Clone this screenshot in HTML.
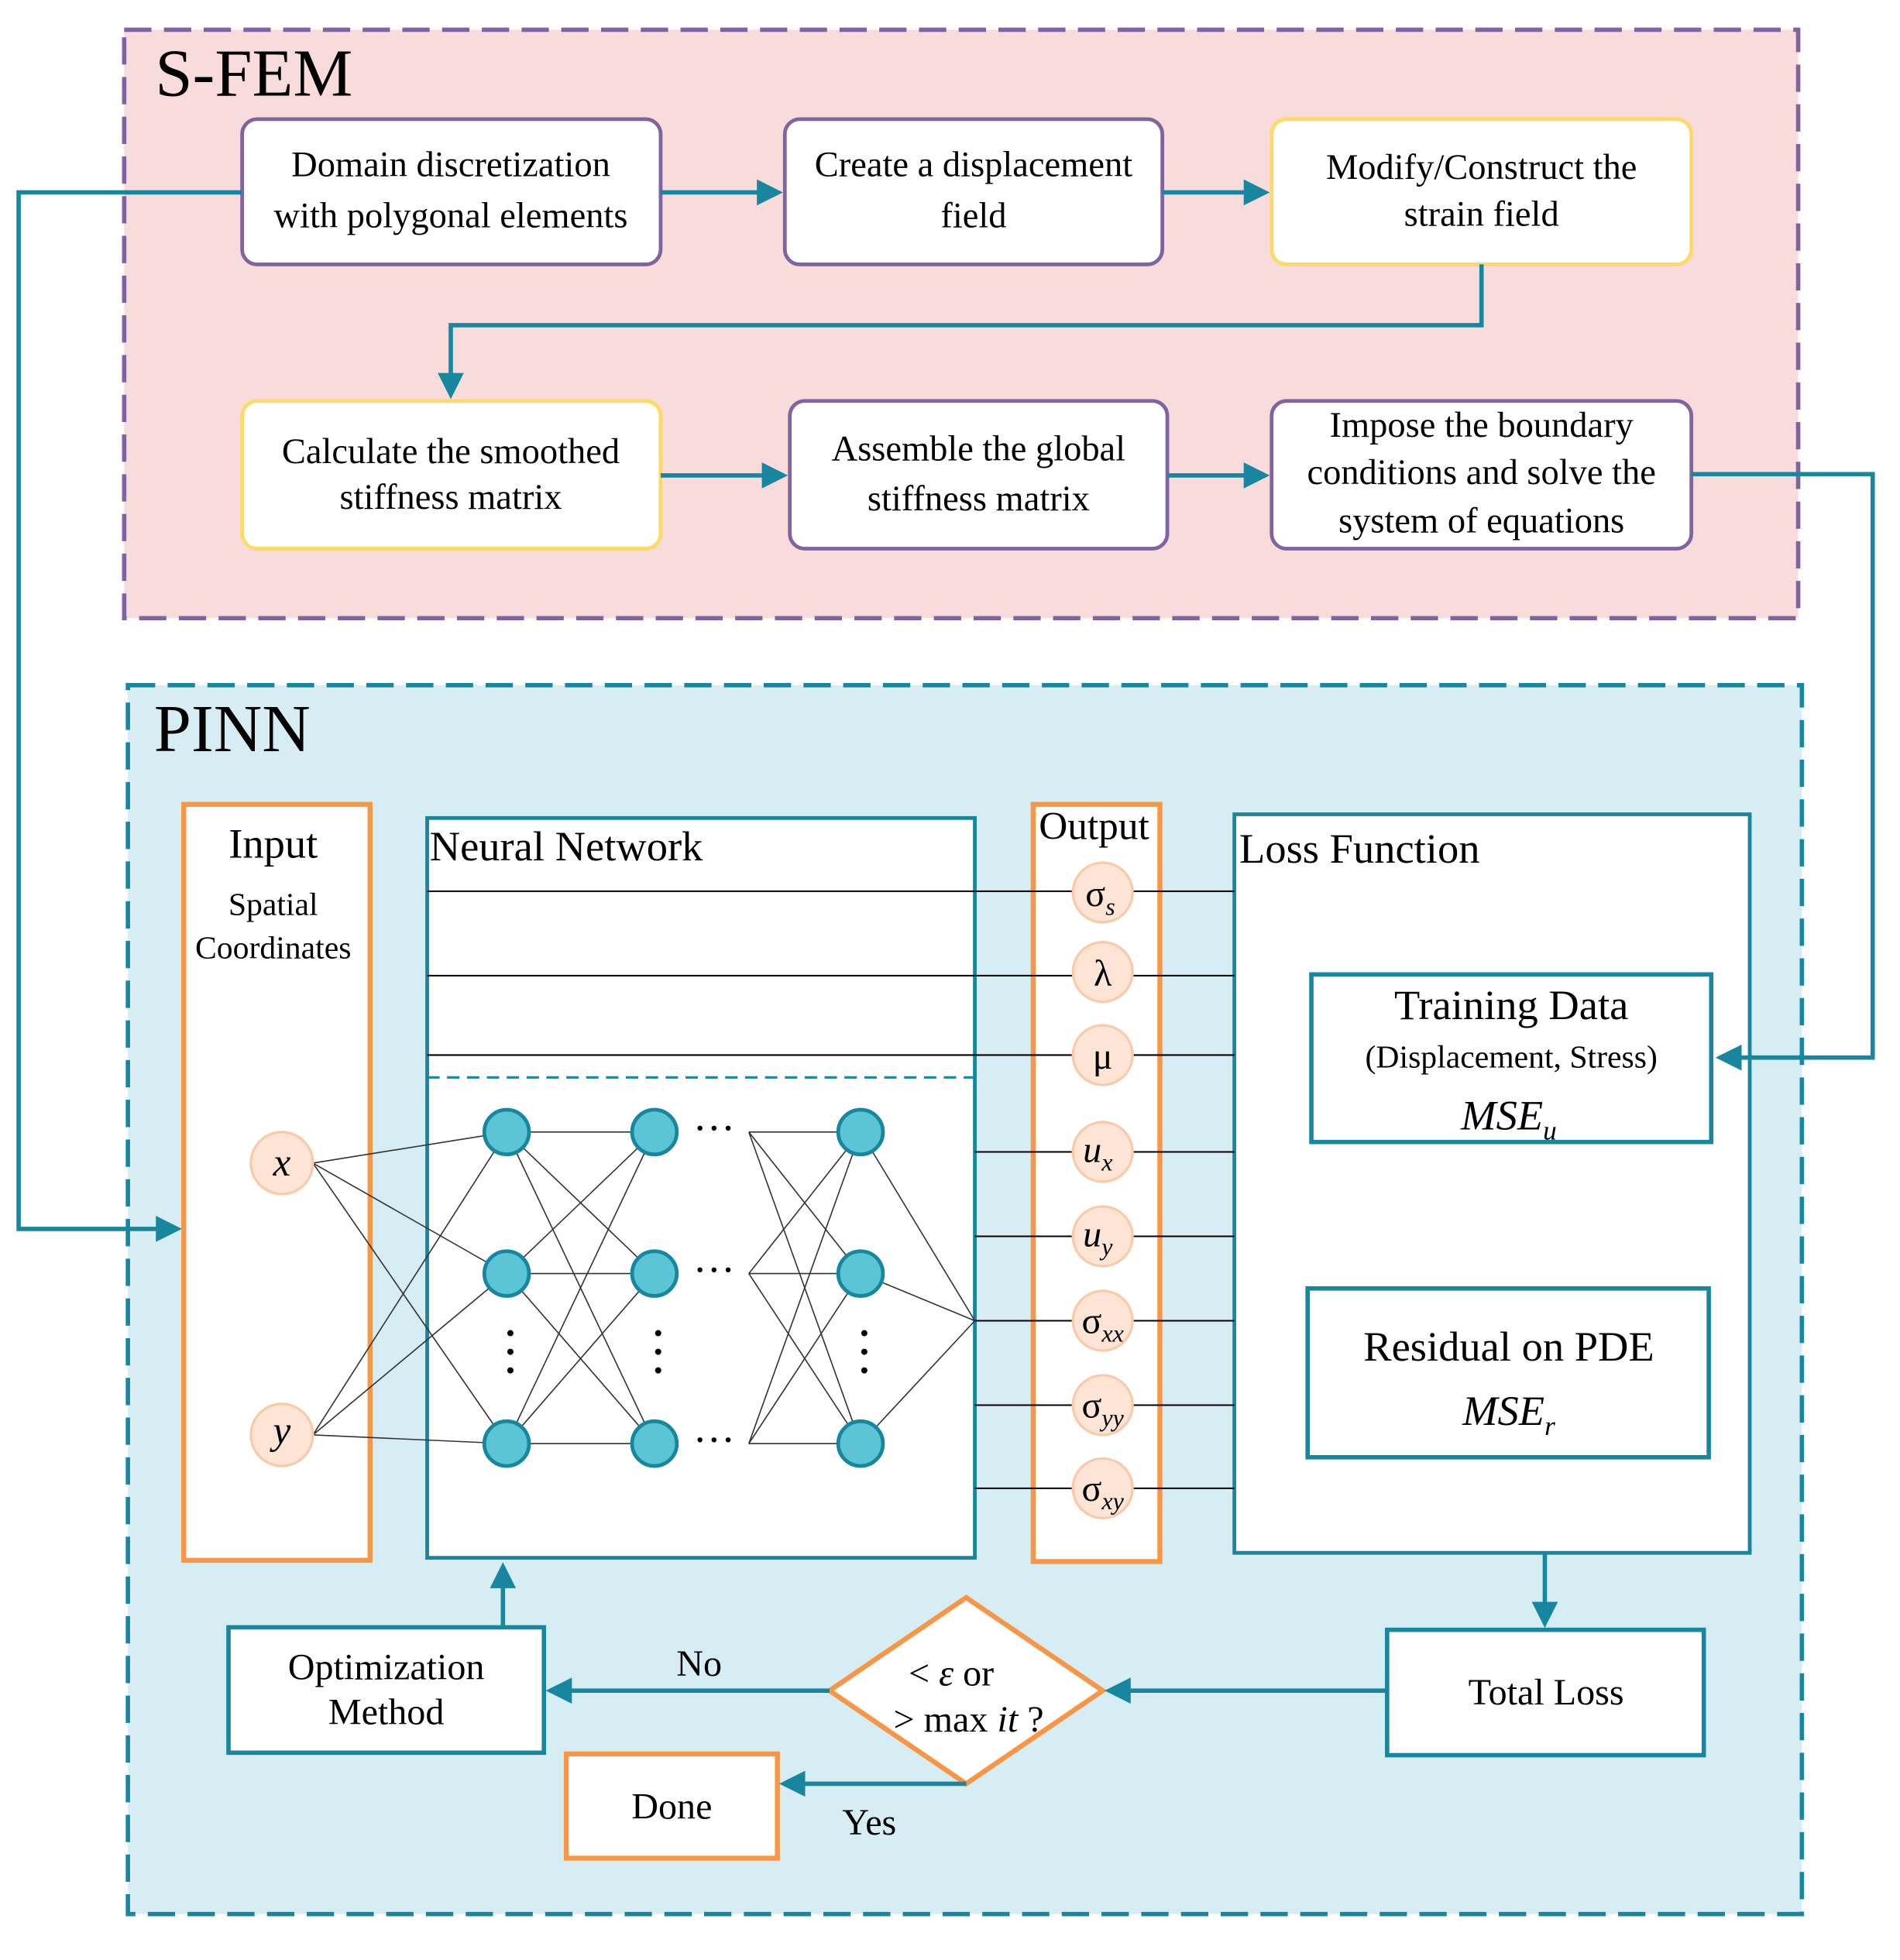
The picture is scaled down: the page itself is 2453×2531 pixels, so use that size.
<!DOCTYPE html>
<html><head><meta charset="utf-8"><style>html,body{margin:0;padding:0;background:#fff}svg{display:block}svg text{font-family:"Liberation Serif","DejaVu Serif",serif;fill:#000}</style></head>
<body>
<svg width="2453" height="2531" viewBox="0 0 1530 1579" preserveAspectRatio="none" xmlns="http://www.w3.org/2000/svg" font-family="Liberation Serif, DejaVu Serif, serif">
<defs>
<marker id="ar" markerWidth="6" markerHeight="6" refX="5" refY="3" orient="auto" markerUnits="strokeWidth"><path d="M0,0 L6,3 L0,6 z" fill="#17869e"/></marker>
</defs>
<rect width="1530" height="1579" fill="#fff"/>
<!-- S-FEM -->
<rect x="100" y="24" width="1348" height="474" fill="#f8dcdc" stroke="#8064a2" stroke-width="3.5" stroke-dasharray="22,10"/>
<text x="125" y="77" font-size="54">S-FEM</text>
<g fill="#fff" stroke-width="3">
<rect x="195" y="96" width="337" height="117" rx="12" stroke="#8064a2"/>
<rect x="632" y="96" width="304" height="117" rx="12" stroke="#8064a2"/>
<rect x="1024" y="96" width="338" height="117" rx="12" stroke="#ffd966"/>
<rect x="195" y="323" width="337" height="119" rx="12" stroke="#ffd966"/>
<rect x="636" y="323" width="304" height="119" rx="12" stroke="#8064a2"/>
<rect x="1024" y="323" width="338" height="119" rx="12" stroke="#8064a2"/>
</g>
<g font-size="29" text-anchor="middle">
<text x="363" y="142">Domain discretization</text><text x="363" y="183">with polygonal elements</text>
<text x="784" y="142">Create a displacement</text><text x="784" y="183">field</text>
<text x="1193" y="144">Modify/Construct the</text><text x="1193" y="182">strain field</text>
<text x="363" y="373">Calculate the smoothed</text><text x="363" y="410">stiffness matrix</text>
<text x="788" y="371">Assemble the global</text><text x="788" y="411">stiffness matrix</text>
<text x="1193" y="352">Impose the boundary</text><text x="1193" y="390">conditions and solve the</text><text x="1193" y="429">system of equations</text>
</g>
<!-- PINN -->
<rect x="103" y="552" width="1348" height="990" fill="#d5edf3" stroke="#17869e" stroke-width="3.5" stroke-dasharray="22,10"/>
<text x="124" y="605" font-size="54">PINN</text>
<rect x="148" y="648" width="150" height="609" fill="#fff" stroke="#f79646" stroke-width="4"/>
<rect x="344" y="659" width="441" height="596" fill="#fff" stroke="#17869e" stroke-width="3"/>
<rect x="832" y="648" width="102" height="610" fill="#fff" stroke="#f79646" stroke-width="4"/>
<rect x="994" y="656" width="415" height="595" fill="#fff" stroke="#17869e" stroke-width="3"/>
<rect x="1056" y="785" width="322" height="135" fill="#fff" stroke="#17869e" stroke-width="3.5"/>
<rect x="1053" y="1038" width="323" height="136" fill="#fff" stroke="#17869e" stroke-width="3.5"/>
<text x="220" y="691" font-size="34" text-anchor="middle">Input</text>
<text x="220" y="737" font-size="26" text-anchor="middle">Spatial</text>
<text x="220" y="772" font-size="26" text-anchor="middle">Coordinates</text>
<text x="346" y="693" font-size="34">Neural Network</text>
<text x="881" y="676" font-size="32" text-anchor="middle">Output</text>
<text x="998" y="695" font-size="34">Loss Function</text>
<text x="1217" y="821" font-size="34" text-anchor="middle">Training Data</text>
<text x="1217" y="860" font-size="26" text-anchor="middle">(Displacement, Stress)</text>
<text x="1215" y="910" font-size="34" text-anchor="middle" font-style="italic">MSE<tspan font-size="22" dy="8">u</tspan></text>
<text x="1215" y="1096" font-size="34" text-anchor="middle">Residual on PDE</text>
<text x="1215" y="1148" font-size="34" text-anchor="middle" font-style="italic">MSE<tspan font-size="22" dy="8">r</tspan></text>
<!-- lines -->
<g stroke="#000" stroke-width="1.3">
<line x1="344" y1="718" x2="994" y2="718"/><line x1="344" y1="786" x2="994" y2="786"/><line x1="344" y1="850" x2="994" y2="850"/>
<line x1="785" y1="928" x2="994" y2="928"/><line x1="785" y1="996" x2="994" y2="996"/><line x1="785" y1="1064" x2="994" y2="1064"/><line x1="785" y1="1132" x2="994" y2="1132"/><line x1="785" y1="1199" x2="994" y2="1199"/>
</g>
<line x1="344" y1="868" x2="785" y2="868" stroke="#17869e" stroke-width="2" stroke-dasharray="10,6"/>
<g stroke="#333" stroke-width="1">
<path d="M252,937L408,912M252,937L408,1026M252,937L408,1163M252,1156L408,912M252,1156L408,1026M252,1156L408,1163"/>
<path d="M408,912L527,912M408,912L527,1026M408,912L527,1163M408,1026L527,912M408,1026L527,1026M408,1026L527,1163M408,1163L527,912M408,1163L527,1026M408,1163L527,1163"/>
<path d="M603,912L693,912M603,912L693,1026M603,912L693,1163M603,1026L693,912M603,1026L693,1026M603,1026L693,1163M603,1163L693,912M603,1163L693,1026M603,1163L693,1163"/>
<path d="M693,912L785,1064M693,1026L785,1064M693,1163L785,1064"/>
</g>
<g fill="#5bc5d6" stroke="#17869e" stroke-width="3">
<circle cx="408" cy="912" r="18"/><circle cx="408" cy="1026" r="18"/><circle cx="408" cy="1163" r="18"/>
<circle cx="527" cy="912" r="18"/><circle cx="527" cy="1026" r="18"/><circle cx="527" cy="1163" r="18"/>
<circle cx="693" cy="912" r="18"/><circle cx="693" cy="1026" r="18"/><circle cx="693" cy="1163" r="18"/>
</g>
<g font-size="34" text-anchor="middle"><text x="575" y="920">···</text><text x="575" y="1034">···</text><text x="575" y="1171">···</text></g>
<g fill="#000"><circle cx="411" cy="1074" r="2.5"/><circle cx="411" cy="1089" r="2.5"/><circle cx="411" cy="1104" r="2.5"/>
<circle cx="530" cy="1074" r="2.5"/><circle cx="530" cy="1089" r="2.5"/><circle cx="530" cy="1104" r="2.5"/>
<circle cx="696" cy="1074" r="2.5"/><circle cx="696" cy="1089" r="2.5"/><circle cx="696" cy="1104" r="2.5"/></g>
<g fill="#fde4d4" stroke="#f9c9a8" stroke-width="2">
<circle cx="227" cy="937" r="25"/><circle cx="227" cy="1156" r="25"/>
<circle cx="888" cy="719" r="24"/><circle cx="888" cy="783" r="24"/><circle cx="888" cy="850" r="24"/><circle cx="888" cy="928" r="24"/><circle cx="888" cy="996" r="24"/><circle cx="888" cy="1064" r="24"/><circle cx="888" cy="1132" r="24"/><circle cx="888" cy="1199" r="24"/>
</g>
<g font-size="32" text-anchor="middle" font-style="italic"><text x="227" y="947">x</text><text x="227" y="1163">y</text></g>
<g font-size="30" text-anchor="middle">
<text x="886" y="730">σ<tspan font-size="20" dy="7" font-style="italic">s</tspan></text>
<text x="888" y="794">λ</text>
<text x="888" y="861">μ</text>
<text x="884" y="936" font-style="italic">u<tspan font-size="20" dy="7">x</tspan></text>
<text x="884" y="1004" font-style="italic">u<tspan font-size="20" dy="7">y</tspan></text>
<text x="888" y="1074">σ<tspan font-size="20" dy="7" font-style="italic">xx</tspan></text>
<text x="888" y="1142">σ<tspan font-size="20" dy="7" font-style="italic">yy</tspan></text>
<text x="888" y="1209">σ<tspan font-size="20" dy="7" font-style="italic">xy</tspan></text>
</g>
<!-- bottom -->
<rect x="184" y="1311" width="254" height="101" fill="#fff" stroke="#17869e" stroke-width="3.5"/>
<rect x="1117" y="1313" width="255" height="101" fill="#fff" stroke="#17869e" stroke-width="3.5"/>
<rect x="456" y="1413" width="170" height="84" fill="#fff" stroke="#f79646" stroke-width="4"/>
<polygon points="778,1287 888,1362 778,1437 668,1362" fill="#fff" stroke="#f79646" stroke-width="4"/>
<g font-size="30" text-anchor="middle">
<text x="311" y="1353">Optimization</text><text x="311" y="1389">Method</text>
<text x="1245" y="1373">Total Loss</text>
<text x="541" y="1465">Done</text>
<text x="563" y="1350">No</text>
<text x="700" y="1478">Yes</text>
<text x="766" y="1358">&lt; <tspan font-style="italic">ε</tspan>   or</text>
<text x="780" y="1395">&gt; max <tspan font-style="italic">it</tspan> ?</text>
</g>
<!-- arrows -->
<g fill="none" stroke="#17869e" stroke-width="3.5">
<path d="M532,155H627" marker-end="url(#ar)"/>
<path d="M936,155H1019" marker-end="url(#ar)"/>
<path d="M1193,213V262H363V318" marker-end="url(#ar)"/>
<path d="M532,383H631" marker-end="url(#ar)"/>
<path d="M940,383H1019" marker-end="url(#ar)"/>
<path d="M195,155H15V990H143" marker-end="url(#ar)"/>
<path d="M1362,382H1508V852H1385" marker-end="url(#ar)"/>
<path d="M1244,1251V1308" marker-end="url(#ar)"/>
<path d="M1117,1362H893" marker-end="url(#ar)"/>
<path d="M668,1362H443" marker-end="url(#ar)"/>
<path d="M405,1311V1262" marker-end="url(#ar)"/>
<path d="M778,1437H631" marker-end="url(#ar)"/>
</g>
</svg>
</body></html>
